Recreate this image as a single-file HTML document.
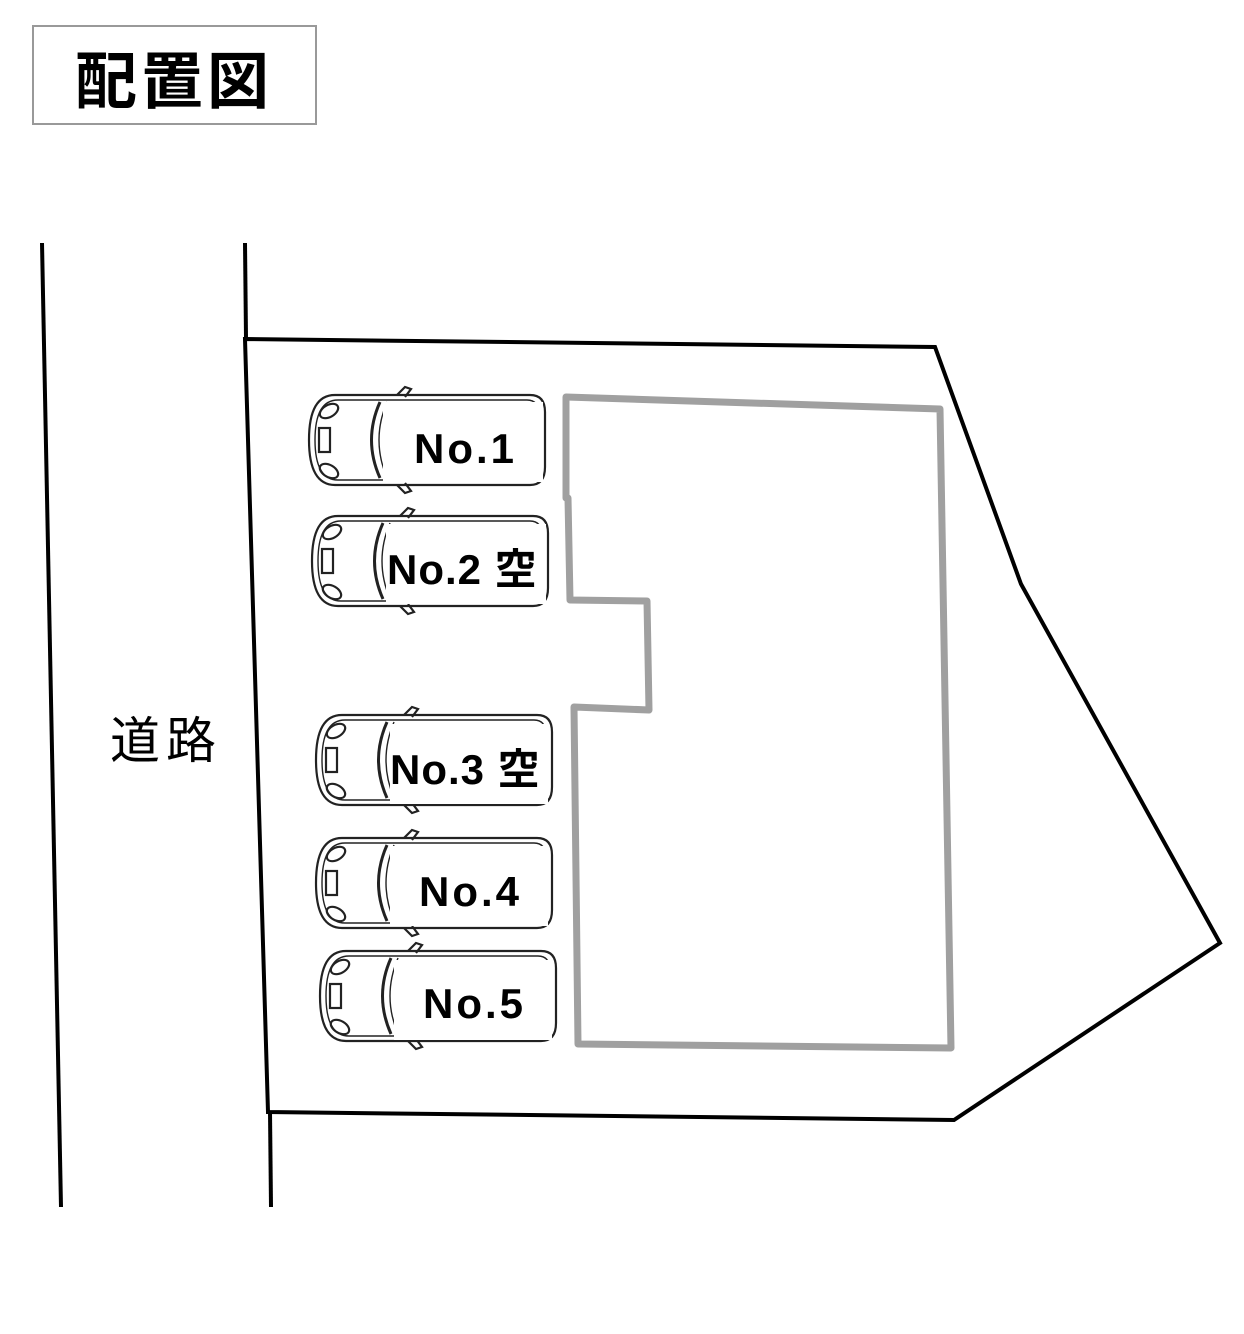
<!DOCTYPE html>
<html><head><meta charset="utf-8"><style>
body{margin:0;background:#fff;width:1244px;height:1329px;overflow:hidden}
svg text{font-family:"Liberation Sans","Noto Sans CJK JP",sans-serif}
</style></head><body>
<svg width="1244" height="1329" viewBox="0 0 1244 1329" xmlns="http://www.w3.org/2000/svg">
<defs>
<g id="car" fill="none" stroke="#222" stroke-width="2.2">
  <path d="M30,8 H225 Q240,8 240,25 V80 Q240,98 225,98 H30 Q4,98 4,53 Q4,8 30,8 Z"/>
  <path d="M33,13 H222 Q234,13 234,28 V78 Q234,93 222,93 H33 Q10,93 10,53 Q10,13 33,13 Z" stroke-width="1.4"/>
  <path d="M75,15 Q58,53 75,91" stroke-width="3"/>
  <path d="M82,15 Q66,53 82,91" stroke-width="1.4"/>
  <ellipse cx="24" cy="24" rx="10" ry="6" transform="rotate(-30 24 24)"/>
  <ellipse cx="24" cy="84" rx="10" ry="6" transform="rotate(30 24 84)"/>
  <rect x="14" y="41" width="11" height="24"/>
  <path d="M92,8 L100,0 L106,2 L100,10"/>
  <path d="M92,98 L100,106 L106,104 L100,96"/>
</g>
</defs>
<rect x="33" y="26" width="283" height="98" fill="#fff" stroke="#999" stroke-width="2"/>
<text x="174" y="103" font-size="62" font-weight="bold" text-anchor="middle" letter-spacing="4">配置図</text>
<line x1="42" y1="243" x2="61" y2="1207" stroke="#000" stroke-width="4"/>
<line x1="245" y1="243" x2="246" y2="338" stroke="#000" stroke-width="4"/>
<line x1="270" y1="1112" x2="271" y2="1207" stroke="#000" stroke-width="4"/>
<polygon points="245,339 935,347 1021,584 1220,943 954,1120 268,1112" fill="none" stroke="#000" stroke-width="4"/>
<polygon points="566,397 940,409 951,1048 578,1044 574,707 649,710 647,601 570,600 568,498 566,498" fill="none" stroke="#a0a0a0" stroke-width="7" stroke-linejoin="round"/>
<text x="110" y="758" font-size="50" letter-spacing="6">道路</text>
<use href="#car" transform="translate(305,387)"/>
<use href="#car" transform="translate(308,508)"/>
<use href="#car" transform="translate(312,707)"/>
<use href="#car" transform="translate(312,830)"/>
<use href="#car" transform="translate(316,943)"/>
<rect x="383" y="402" width="160" height="80" fill="#fff"/>
<rect x="386" y="524" width="160" height="80" fill="#fff"/>
<rect x="390" y="724" width="158" height="80" fill="#fff"/>
<rect x="390" y="846" width="158" height="80" fill="#fff"/>
<rect x="394" y="960" width="158" height="80" fill="#fff"/>
<text x="414" y="463" font-size="42" font-weight="bold" letter-spacing="3">No.1</text>
<text x="387" y="584" font-size="42" font-weight="bold" letter-spacing="1">No.2 空</text>
<text x="390" y="784" font-size="42" font-weight="bold" letter-spacing="1">No.3 空</text>
<text x="419" y="906" font-size="42" font-weight="bold" letter-spacing="3">No.4</text>
<text x="423" y="1018" font-size="42" font-weight="bold" letter-spacing="3">No.5</text>
</svg>
</body></html>
